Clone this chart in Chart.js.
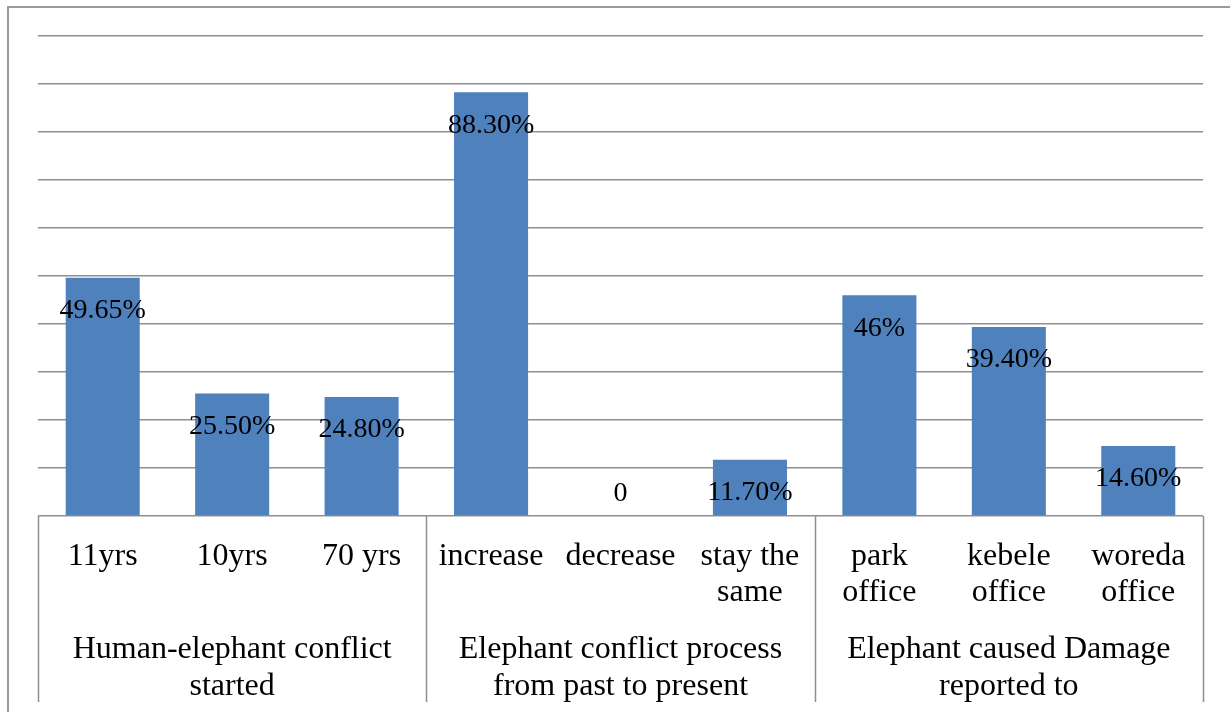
<!DOCTYPE html>
<html>
<head>
<meta charset="utf-8">
<script src="https://cdn.jsdelivr.net/npm/chart.js@4/dist/chart.umd.min.js"></script>
<style>
  html, body { margin: 0; padding: 0; background: #fff; }
  #wrap { position: relative; width: 1230px; height: 712px; }
</style>
</head>
<body>
<div id="wrap"><canvas id="c" width="1230" height="712"></canvas></div>
<script>
// Survey responses (percent of respondents)
const categories = [
  ['11yrs'], ['10yrs'], ['70 yrs'],
  ['increase'], ['decrease'], ['stay the', 'same'],
  ['park', 'office'], ['kebele', 'office'], ['woreda', 'office']
];
const values = [49.65, 25.5, 24.8, 88.3, 0, 11.7, 46, 39.4, 14.6];
const valueLabels = ['49.65%', '25.50%', '24.80%', '88.30%', '0', '11.70%', '46%', '39.40%', '14.60%'];
const groups = [
  ['Human-elephant conflict', 'started'],
  ['Elephant conflict process', 'from past to present'],
  ['Elephant caused Damage', 'reported to']
];
const groupSize = 3;
const yMax = 100;
const yStep = 10;

const SERIF = '"Liberation Serif", "Times New Roman", serif';
const LINE = '#8f8f8f';

// Outer frame of the figure
const framePlugin = {
  id: 'frame',
  beforeDraw(chart) {
    const ctx = chart.ctx;
    ctx.save();
    ctx.strokeStyle = '#9a9a9a';
    ctx.lineWidth = 2;
    ctx.beginPath();
    ctx.moveTo(8, 712);
    ctx.lineTo(8, 7);
    ctx.lineTo(1230, 7);
    ctx.stroke();
    ctx.restore();
  }
};

// Value labels drawn just inside the top of each bar
const valueLabelPlugin = {
  id: 'valueLabels',
  afterDatasetsDraw(chart) {
    const ctx = chart.ctx;
    const meta = chart.getDatasetMeta(0);
    ctx.save();
    ctx.font = '28px ' + SERIF;
    ctx.fillStyle = '#000';
    ctx.textAlign = 'center';
    ctx.textBaseline = 'middle';
    meta.data.forEach((bar, i) => {
      const y = values[i] === 0 ? bar.base - 22 : bar.y + 33;
      ctx.fillText(valueLabels[i], bar.x, y);
    });
    ctx.restore();
  }
};

// Two-level category axis with group separators
const groupAxisPlugin = {
  id: 'groupAxis',
  afterDraw(chart) {
    const ctx = chart.ctx;
    const xs = chart.scales.x;
    const area = chart.chartArea;
    const n = categories.length;
    const half = (xs.getPixelForValue(1) - xs.getPixelForValue(0)) / 2;
    ctx.save();
    // separators
    ctx.strokeStyle = LINE;
    ctx.lineWidth = 1.5;
    ctx.beginPath();
    for (let g = 0; g <= groups.length; g++) {
      let x;
      if (g === 0) x = xs.getPixelForValue(0) - half;
      else x = xs.getPixelForValue(g * groupSize - 1) + half;
      x = Math.round(x) + 0.5;
      ctx.moveTo(x, area.bottom);
      ctx.lineTo(x, 702);
    }
    ctx.stroke();
    // category labels
    ctx.fillStyle = '#000';
    ctx.font = '32px ' + SERIF;
    ctx.textAlign = 'center';
    ctx.textBaseline = 'middle';
    for (let i = 0; i < n; i++) {
      const x = xs.getPixelForValue(i);
      categories[i].forEach((line, k) => ctx.fillText(line, x, 557 + k * 36));
    }
    // group labels
    groups.forEach((lines, g) => {
      const x0 = xs.getPixelForValue(g * groupSize) - half;
      const x1 = xs.getPixelForValue(g * groupSize + groupSize - 1) + half;
      lines.forEach((line, k) => ctx.fillText(line, (x0 + x1) / 2, 650 + k * 37));
    });
    ctx.restore();
  }
};

new Chart(document.getElementById('c'), {
  type: 'bar',
  data: {
    labels: categories.map(c => c.join(' ')),
    datasets: [{
      data: values,
      backgroundColor: '#4F81BD',
      borderWidth: 0,
      categoryPercentage: 1,
      barPercentage: 0.572
    }]
  },
  options: {
    responsive: false,
    animation: false,
    devicePixelRatio: 1,
    layout: { padding: { left: 38, right: 27, top: 36, bottom: 196 } },
    plugins: { legend: { display: false }, tooltip: { enabled: false } },
    scales: {
      x: {
        ticks: { display: false },
        grid: { display: false, drawTicks: false },
        border: { display: false }
      },
      y: {
        min: 0,
        max: yMax,
        ticks: { display: false, stepSize: yStep },
        grid: { color: LINE, lineWidth: 1.5, drawTicks: false },
        border: { display: false }
      }
    }
  },
  plugins: [framePlugin, valueLabelPlugin, groupAxisPlugin]
});
</script>
</body>
</html>
